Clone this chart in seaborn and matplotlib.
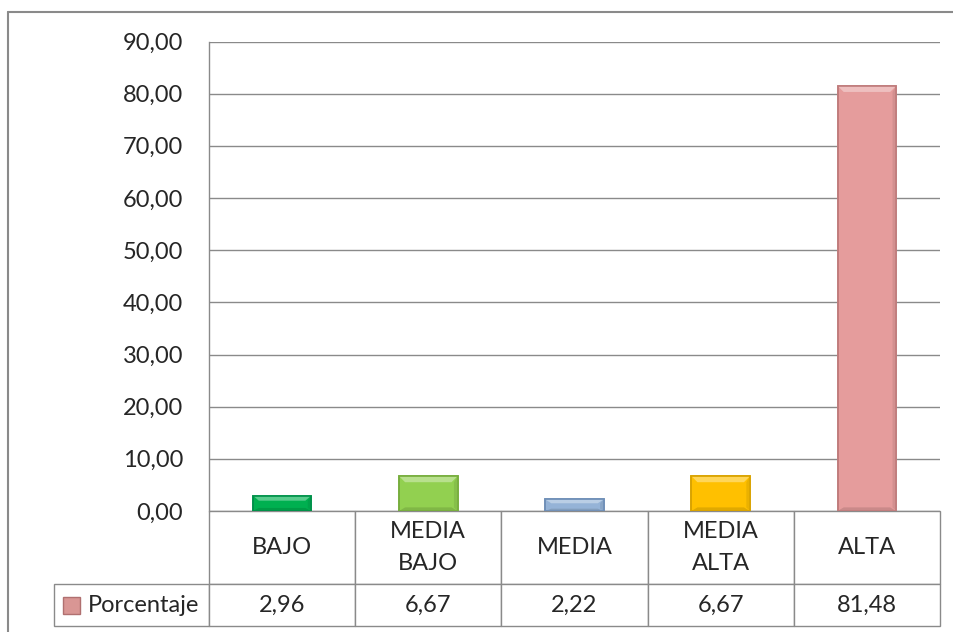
import matplotlib
matplotlib.use("Agg")
import matplotlib.pyplot as plt
import seaborn as sns
from matplotlib.patches import Rectangle, Polygon
from matplotlib.lines import Line2D
import matplotlib.colors as mcolors
import numpy as np

categorias = ["BAJO", "MEDIA\nBAJO", "MEDIA", "MEDIA\nALTA", "ALTA"]
porcentaje = [2.96, 6.67, 2.22, 6.67, 81.48]
colores = ["#00B050", "#92D050", "#95B3D7", "#FFC000", "#E59C9C"]
bordes = ["#00904A", "#78AE3E", "#6F8FB8", "#D9A300", "#C07C7C"]
serie = "Porcentaje"

sns.set_style("white")
plt.rcParams["font.family"] = ["Lato", "DejaVu Sans"]
plt.rcParams["font.size"] = 17

gris = "#8A8A8A"

fig = plt.figure(figsize=(9.54, 6.32), dpi=100)
ax = fig.add_axes([209 / 954, 1 - 511 / 632, 731 / 954, 469.5 / 632])

sns.barplot(x=list(range(len(categorias))), y=porcentaje, hue=list(range(len(categorias))),
            palette=colores, width=0.4, legend=False, ax=ax, saturation=1)


def mezcla(c, otro, t):
    a = np.array(mcolors.to_rgb(c))
    b = np.array(mcolors.to_rgb(otro))
    return tuple(a * (1 - t) + b * t)


# efecto de bisel estilo Excel
px_y = 90 / 469.5
px_x = 5 / 731
for p, col, ec in zip(ax.patches, colores, bordes):
    p.set_edgecolor(ec)
    p.set_linewidth(1.2)
    x0, w, h = p.get_x(), p.get_width(), p.get_height()
    bv_y = min(6 * px_y, h / 3)
    bv_x = 6 * px_x
    arriba = Polygon([(x0, h), (x0 + w, h), (x0 + w - bv_x, h - bv_y), (x0 + bv_x, h - bv_y)],
                     closed=True, facecolor=mezcla(col, "white", 0.35), edgecolor="none", zorder=3)
    abajo = Polygon([(x0, 0), (x0 + w, 0), (x0 + w - bv_x, bv_y * 0.6), (x0 + bv_x, bv_y * 0.6)],
                    closed=True, facecolor=mezcla(col, "black", 0.12), edgecolor="none", zorder=3)
    der = Polygon([(x0 + w, 0), (x0 + w, h), (x0 + w - bv_x * 0.6, h - bv_y), (x0 + w - bv_x * 0.6, bv_y * 0.6)],
                  closed=True, facecolor=mezcla(col, "black", 0.08), edgecolor="none", zorder=3)
    ax.add_patch(arriba)
    ax.add_patch(abajo)
    ax.add_patch(der)
    borde = Rectangle((x0, 0), w, h, facecolor="none", edgecolor=ec, linewidth=1.2, zorder=4)
    ax.add_patch(borde)

ax.set_ylim(0, 90)
ax.set_xlim(-0.5, 4.5)
ax.set_yticks(range(0, 91, 10))
ax.set_yticklabels([f"{v:.2f}".replace(".", ",") for v in range(0, 91, 10)])
ax.tick_params(axis="y", length=0, pad=18.5, labelsize=17)
ax.set_xticks([])
ax.set_xlabel("")
ax.set_ylabel("")
ax.yaxis.grid(True, color=gris, linewidth=1)
ax.set_axisbelow(True)
for s in ["top", "right", "bottom"]:
    ax.spines[s].set_visible(False)
ax.spines["left"].set_color(gris)
ax.spines["left"].set_linewidth(1)

# tabla de datos bajo el grafico
valores_txt = [[f"{v:.2f}".replace(".", ",") for v in porcentaje]]
tabla = ax.table(cellText=valores_txt, rowLabels=[serie], colLabels=categorias,
                 cellLoc="center", rowLoc="right", colLoc="center",
                 bbox=[0, -115 / 469.5, 1, 115 / 469.5])
tabla.auto_set_font_size(False)
tabla._autoColumns = []
h_cab = 73 / 469.5
h_val = 42 / 469.5
for (r, c), cell in tabla.get_celld().items():
    cell.set_edgecolor(gris)
    cell.set_linewidth(1)
    cell.get_text().set_fontsize(17)
    cell.set_height(h_cab if r == 0 else h_val)
    cell.set_width(155 / 731 if c == -1 else 0.2)
    if r == 0:
        cell.get_text().set_linespacing(1.6)
    if c == -1:
        cell.PAD = 0.06

# marcador de leyenda
fig.add_artist(Rectangle((63 / 954, 1 - 614 / 632), 17 / 954, 17 / 632,
                         transform=fig.transFigure, facecolor="#D99694",
                         edgecolor="#B07070", linewidth=1))

# borde exterior del grafico
fig.add_artist(Line2D([8 / 954, 8 / 954], [0, 1 - 12 / 632], transform=fig.transFigure,
                      color=gris, linewidth=1.5))
fig.add_artist(Line2D([8 / 954, 1], [1 - 12 / 632, 1 - 12 / 632], transform=fig.transFigure,
                      color=gris, linewidth=1.5))

fig.savefig("out.png", dpi=100)
